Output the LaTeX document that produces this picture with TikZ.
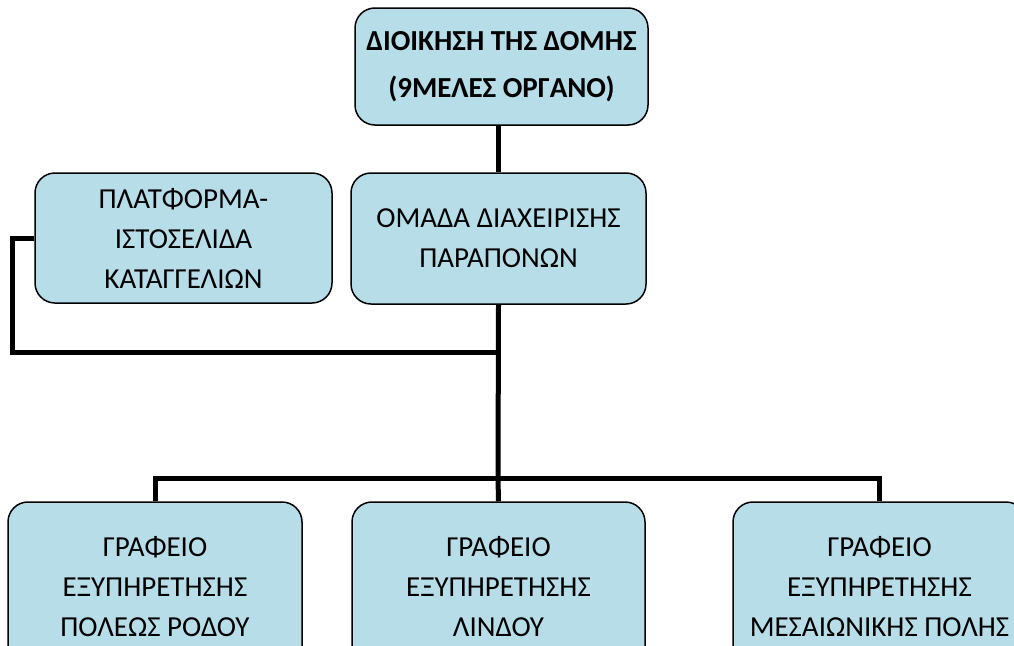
\documentclass[tikz,border=0pt]{standalone}
\usepackage{fontspec}
\setmainfont{Carlito}
\definecolor{boxfill}{HTML}{B7DEE8}
\tikzset{
  orgbox/.style={draw=black, line width=1.5pt, fill=boxfill, rounded corners=20pt,
    align=center, inner sep=0pt, font=\fontsize{29}{40}\selectfont},
  lowbox/.style={orgbox, font=\fontsize{29}{40}\selectfont},
  topbox/.style={orgbox, font=\fontsize{29}{47}\selectfont\bfseries},
  link/.style={draw=black, line width=5pt}
}
\begin{document}
\begin{tikzpicture}[x=1pt,y=-1pt]
\clip (0,0) rectangle (1014,645);
\fill[white] (0,0) rectangle (1014,645);
% boxes
\node[topbox, minimum width=293pt, minimum height=117pt] (top) at (501.5,66.5)
  {ΔΙΟΙΚΗΣΗ ΤΗΣ ΔΟΜΗΣ\\(9ΜΕΛΕΣ ΟΡΓΑΝΟ)};
\node[orgbox, minimum width=295pt, minimum height=131pt] (mid) at (498.5,238.5)
  {ΟΜΑΔΑ ΔΙΑΧΕΙΡΙΣΗΣ\\ΠΑΡΑΠΟΝΩΝ};
\node[orgbox, minimum width=297pt, minimum height=130pt] (plat) at (183.5,238)
  {ΠΛΑΤΦΟΡΜΑ-\\ΙΣΤΟΣΕΛΙΔΑ\\ΚΑΤΑΓΓΕΛΙΩΝ};
\node[lowbox, minimum width=294pt, minimum height=170pt] (b1) at (155,587)
  {ΓΡΑΦΕΙΟ\\ΕΞΥΠΗΡΕΤΗΣΗΣ\\ΠΟΛΕΩΣ ΡΟΔΟΥ};
\node[lowbox, minimum width=293pt, minimum height=170pt] (b2) at (498.5,587)
  {ΓΡΑΦΕΙΟ\\ΕΞΥΠΗΡΕΤΗΣΗΣ\\ΛΙΝΔΟΥ};
\node[lowbox, minimum width=293pt, minimum height=170pt] (b3) at (879.5,587)
  {ΓΡΑΦΕΙΟ\\ΕΞΥΠΗΡΕΤΗΣΗΣ\\ΜΕΣΑΙΩΝΙΚΗΣ ΠΟΛΗΣ};
% junctions
\coordinate (j1) at (498,352);
\coordinate (j2) at (498,478);
\coordinate (lc) at (12,352);
% connectors
\draw[link] (mid.north) -- (mid.north |- top.south);
\draw[link] (plat.west) -| (lc) -- (j1);
\draw[link] (mid.south) -- (j2);
\draw[link] (b1.north) |- (j2) -| (b3.north);
\draw[link] (j2) -- (b2.north);
\end{tikzpicture}
\end{document}
